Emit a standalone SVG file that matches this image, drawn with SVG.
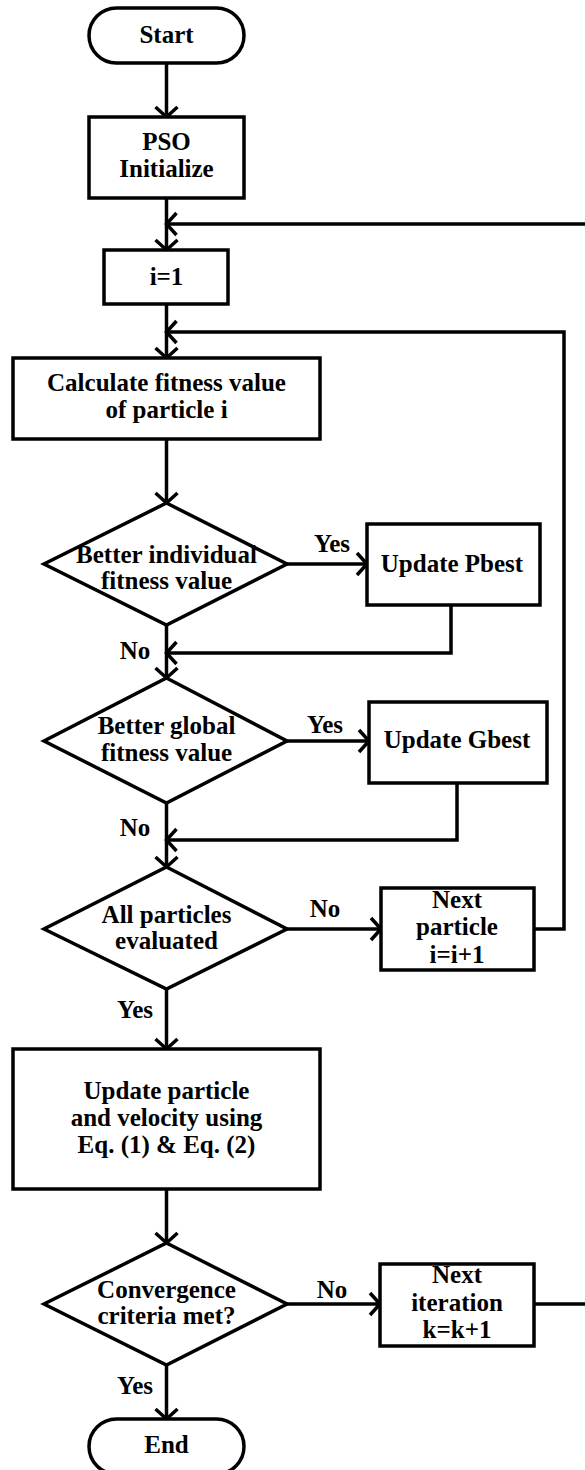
<svg xmlns="http://www.w3.org/2000/svg" width="585" height="1470" viewBox="0 0 585 1470" font-family="'Liberation Serif', 'DejaVu Serif', serif" font-weight="bold" font-size="25">
<defs>
<style>
.s{fill:#fff;stroke:#000;stroke-width:3.5;stroke-linejoin:miter}
.c{fill:none;stroke:#000;stroke-width:3.5}
text{fill:#000;text-anchor:middle}
</style>
<marker id="ah" markerUnits="userSpaceOnUse" markerWidth="30" markerHeight="30" viewBox="-15 -15 30 30" refX="0" refY="0" orient="auto">
<path d="M-10,-11 L0,0 L-10,11" fill="none" stroke="#000" stroke-width="3.5"/>
</marker>
</defs>
<rect width="585" height="1470" fill="#fff"/>
<g id="connectors">
<path class="c" d="M166.5,63 V117" marker-end="url(#ah)"/>
<path class="c" d="M166.5,198 V250" marker-end="url(#ah)"/>
<path class="c" d="M166.5,304 V358" marker-end="url(#ah)"/>
<path class="c" d="M166.5,439 V503" marker-end="url(#ah)"/>
<path class="c" d="M166.5,625 V678" marker-end="url(#ah)"/>
<path class="c" d="M166.5,802 V867" marker-end="url(#ah)"/>
<path class="c" d="M166.5,989 V1049" marker-end="url(#ah)"/>
<path class="c" d="M166.5,1189 V1243" marker-end="url(#ah)"/>
<path class="c" d="M166.5,1365 V1419" marker-end="url(#ah)"/>
<path class="c" d="M287,564 H367" marker-end="url(#ah)"/>
<path class="c" d="M287,741 H369" marker-end="url(#ah)"/>
<path class="c" d="M287,929 H381" marker-end="url(#ah)"/>
<path class="c" d="M287,1304 H380" marker-end="url(#ah)"/>
<path class="c" d="M451,605 V653 H166.5" marker-end="url(#ah)"/>
<path class="c" d="M457,783 V840 H166.5" marker-end="url(#ah)"/>
<path class="c" d="M534,929 H564 V332 H166.5" marker-end="url(#ah)"/>
<path class="c" d="M534,1304 H600 V224 H166.5" marker-end="url(#ah)"/>
<text x="332" y="552">Yes</text>
<text x="325" y="733">Yes</text>
<text x="325" y="917">No</text>
<text x="332" y="1298">No</text>
<text x="135" y="659">No</text>
<text x="135" y="836">No</text>
<text x="135" y="1018">Yes</text>
<text x="135" y="1394">Yes</text>
</g>
<g id="start">
<rect class="s" x="89" y="8" width="155" height="55" rx="27.5"/>
<text x="166.5" y="43">Start</text>
</g>
<g id="init">
<rect class="s" x="89" y="117" width="155" height="81"/>
<text x="166.5" y="150">PSO</text>
<text x="166.5" y="177">Initialize</text>
</g>
<g id="i1">
<rect class="s" x="104" y="250" width="124" height="54"/>
<text x="166.5" y="285">i=1</text>
</g>
<g id="calc">
<rect class="s" x="13" y="358" width="307" height="81"/>
<text x="166.5" y="391">Calculate fitness value</text>
<text x="166.5" y="418">of particle i</text>
</g>
<g id="dec1">
<polygon class="s" points="166.5,503 287,564 166.5,625 44,564"/>
<text x="166.5" y="563">Better individual</text>
<text x="166.5" y="589">fitness value</text>
</g>
<g id="pbest">
<rect class="s" x="367" y="524" width="173" height="81"/>
<text x="452" y="572">Update Pbest</text>
</g>
<g id="dec2">
<polygon class="s" points="166.5,678 287,741 166.5,803 44,741"/>
<text x="166.5" y="734">Better global</text>
<text x="166.5" y="761">fitness value</text>
</g>
<g id="gbest">
<rect class="s" x="369" y="702" width="178" height="81"/>
<text x="457" y="748">Update Gbest</text>
</g>
<g id="dec3">
<polygon class="s" points="166.5,867 287,929 166.5,989 44,929"/>
<text x="166.5" y="923">All particles</text>
<text x="166.5" y="949">evaluated</text>
</g>
<g id="nextp">
<rect class="s" x="381" y="888" width="153" height="82"/>
<text x="457" y="908">Next</text>
<text x="457" y="935">particle</text>
<text x="457" y="963">i=i+1</text>
</g>
<g id="update">
<rect class="s" x="13" y="1049" width="307" height="140"/>
<text x="166.5" y="1099">Update particle</text>
<text x="166.5" y="1126">and velocity using</text>
<text x="166.5" y="1153">Eq. (1) &amp; Eq. (2)</text>
</g>
<g id="dec4">
<polygon class="s" points="166.5,1243 287,1304 166.5,1365 44,1304"/>
<text x="166.5" y="1298">Convergence</text>
<text x="166.5" y="1324">criteria met?</text>
</g>
<g id="nexti">
<rect class="s" x="380" y="1264" width="154" height="82"/>
<text x="457" y="1283">Next</text>
<text x="457" y="1311">iteration</text>
<text x="457" y="1338">k=k+1</text>
</g>
<g id="end">
<rect class="s" x="89" y="1419" width="155" height="55" rx="27.5"/>
<text x="166.5" y="1453">End</text>
</g>
</svg>
